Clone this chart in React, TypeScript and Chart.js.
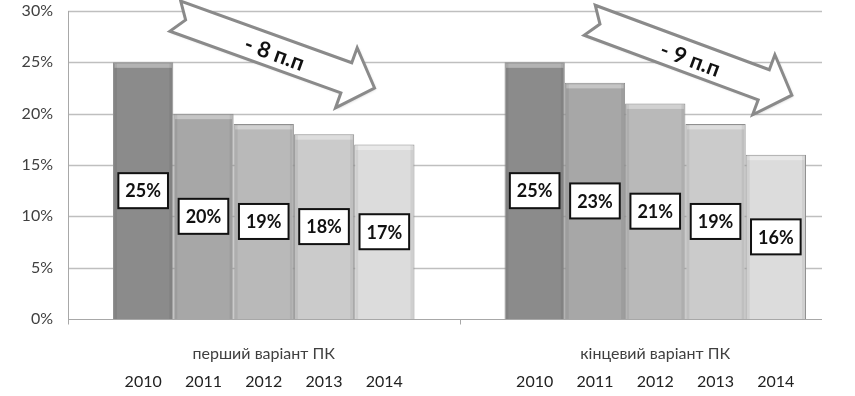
import React, { useEffect, useRef } from "react";
import { Chart, registerables } from "chart.js";

Chart.register(...registerables);

const categories = ["перший варіант ПК", "кінцевий варіант ПК"];
const years = ["2010", "2011", "2012", "2013", "2014"];
const values2010 = [25, 25];
const values2011 = [20, 23];
const values2012 = [19, 21];
const values2013 = [18, 19];
const values2014 = [17, 16];
const seriesValues = [values2010, values2011, values2012, values2013, values2014];
const yTicks = [0, 5, 10, 15, 20, 25, 30];
const arrowLabels = ["- 8 п.п", "- 9 п.п"];

// Arrow anchors in data space: category index offset (fraction of category) and value
const arrowTail = [
  { cat: -0.226, val: 29.5 },
  { cat: 1 - 0.1675, val: 29.1 },
];
const arrowTip = [
  { cat: 0.283, val: 22.5 },
  { cat: 1 + 0.349, val: 21.8 },
];

const barColors = ["#8b8b8b", "#a7a7a7", "#b9b9b9", "#cbcbcb", "#dcdcdc"];
const FONT = "Lato, 'Liberation Sans', sans-serif";

function drawArrow(ctx: CanvasRenderingContext2D, tx: number, ty: number, hx: number, hy: number, label: string) {
  const dx = hx - tx;
  const dy = hy - ty;
  const L = Math.sqrt(dx * dx + dy * dy);
  const ang = Math.atan2(dy, dx);
  const w = 16;
  const H = 32;
  const hl = 30;
  const n = 11;
  ctx.save();
  ctx.translate(tx, ty);
  ctx.rotate(ang);
  ctx.beginPath();
  ctx.moveTo(0, -w);
  ctx.lineTo(L - hl, -w);
  ctx.lineTo(L - hl, -H);
  ctx.lineTo(L, 0);
  ctx.lineTo(L - hl, H);
  ctx.lineTo(L - hl, w);
  ctx.lineTo(0, w);
  ctx.lineTo(n, 0);
  ctx.closePath();
  ctx.shadowColor = "rgba(0,0,0,0.25)";
  ctx.shadowBlur = 3;
  ctx.shadowOffsetX = 1;
  ctx.shadowOffsetY = 1;
  ctx.fillStyle = "#ffffff";
  ctx.fill();
  ctx.shadowColor = "transparent";
  ctx.lineWidth = 3;
  ctx.strokeStyle = "#8a8a8a";
  ctx.lineJoin = "miter";
  ctx.stroke();
  ctx.fillStyle = "#111111";
  ctx.font = `bold 22px ${FONT}`;
  ctx.textAlign = "center";
  ctx.textBaseline = "middle";
  ctx.fillText(label, L * 0.5, 2);
  ctx.restore();
}

const customPlugin = {
  id: "customDecor",
  beforeDatasetsDraw(chart: any) {
    const { ctx, chartArea, scales } = chart;
    const x = scales.x;
    const y = scales.y;
    ctx.save();
    ctx.strokeStyle = "#bfbfbf";
    ctx.lineWidth = 1.5;
    const right = chartArea.right - 29;
    yTicks.forEach((v) => {
      if (v === 0) return;
      const py = Math.round(y.getPixelForValue(v)) + 0.5;
      ctx.beginPath();
      ctx.moveTo(chartArea.left, py);
      ctx.lineTo(right, py);
      ctx.stroke();
    });
    ctx.strokeStyle = "#a8a8a8";
    ctx.lineWidth = 1;
    const y0 = Math.round(y.getPixelForValue(0)) + 0.5;
    const lx = Math.round(chartArea.left) + 0.5;
    ctx.beginPath();
    ctx.moveTo(lx, chartArea.top);
    ctx.lineTo(lx, y0);
    ctx.moveTo(chartArea.left, y0);
    ctx.lineTo(right, y0);
    for (let i = 0; i < categories.length; i++) {
      const bx = Math.round(x.getPixelForValue(i - 0.5)) + 0.5;
      ctx.moveTo(bx, y0);
      ctx.lineTo(bx, y0 + 5);
    }
    ctx.stroke();
    // y tick labels
    ctx.font = `16px ${FONT}`;
    ctx.fillStyle = "#404040";
    ctx.textAlign = "right";
    ctx.textBaseline = "middle";
    yTicks.forEach((v) => {
      ctx.fillText(`${v}%`, chartArea.left - 15, y.getPixelForValue(v));
    });
    ctx.restore();
  },
  afterDatasetsDraw(chart: any) {
    const { ctx, scales } = chart;
    const x = scales.x;
    const y = scales.y;
    const y0 = y.getPixelForValue(0);
    ctx.save();
    // bevel highlights
    chart.data.datasets.forEach((ds: any, di: number) => {
      const meta = chart.getDatasetMeta(di);
      meta.data.forEach((el: any) => {
        const left = el.x - el.width / 2;
        ctx.fillStyle = "rgba(255,255,255,0.35)";
        ctx.fillRect(left + 1.5, el.y + 1.5, el.width - 3, 4);
        ctx.fillStyle = "rgba(0,0,0,0.06)";
        ctx.fillRect(left + 1, el.y + 1, 3, el.base - el.y - 1);
        ctx.fillRect(left + el.width - 4, el.y + 1, 3, el.base - el.y - 1);
      });
    });
    // value labels
    ctx.font = `bold 18px ${FONT}`;
    ctx.textAlign = "center";
    ctx.textBaseline = "middle";
    chart.data.datasets.forEach((ds: any, di: number) => {
      const meta = chart.getDatasetMeta(di);
      meta.data.forEach((el: any, j: number) => {
        const text = `${ds.data[j]}%`;
        const tw = ctx.measureText(text).width;
        const bw = tw + 14;
        const bh = 35;
        const cx = el.x;
        const cy = (el.y + el.base) / 2;
        ctx.fillStyle = "#ffffff";
        ctx.fillRect(cx - bw / 2, cy - bh / 2, bw, bh);
        ctx.lineWidth = 2;
        ctx.strokeStyle = "#111111";
        ctx.strokeRect(cx - bw / 2, cy - bh / 2, bw, bh);
        ctx.fillStyle = "#111111";
        ctx.fillText(text, cx, cy + 1);
      });
    });
    // category labels
    ctx.font = `16px ${FONT}`;
    ctx.fillStyle = "#404040";
    categories.forEach((c, i) => {
      ctx.fillText(c, x.getPixelForValue(i), y0 + 35);
    });
    // year labels
    ctx.fillStyle = "#222222";
    chart.data.datasets.forEach((ds: any, di: number) => {
      const meta = chart.getDatasetMeta(di);
      meta.data.forEach((el: any) => {
        ctx.fillText(ds.label, el.x, y0 + 63);
      });
    });
    // arrows
    arrowLabels.forEach((lab, i) => {
      const tx = x.getPixelForValue(arrowTail[i].cat);
      const ty = y.getPixelForValue(arrowTail[i].val);
      const hx = x.getPixelForValue(arrowTip[i].cat);
      const hy = y.getPixelForValue(arrowTip[i].val);
      drawArrow(ctx, tx, ty, hx, hy, lab);
    });
    ctx.restore();
  },
};

export default function App() {
  const canvasRef = useRef<HTMLCanvasElement | null>(null);

  useEffect(() => {
    if (!canvasRef.current) return;
    const chart = new Chart(canvasRef.current, {
      type: "bar",
      data: {
        labels: categories,
        datasets: years.map((yr, i) => ({
          label: yr,
          data: seriesValues[i],
          backgroundColor: barColors[i],
          borderColor: "#8f8f8f",
          borderWidth: 1,
          categoryPercentage: 0.77,
          barPercentage: 1.0,
        })),
      },
      options: {
        responsive: false,
        animation: false,
        layout: { padding: { top: 11, bottom: 77, right: 4, left: 0 } },
        plugins: {
          legend: { display: false },
          tooltip: { enabled: false },
        },
        scales: {
          x: { display: false },
          y: {
            min: 0,
            max: 30,
            afterFit: (s: any) => {
              s.width = 68;
            },
            grid: { display: false },
            border: { display: false },
            ticks: { display: false, stepSize: 5 },
          },
        },
      },
      plugins: [customPlugin],
    });
    return () => chart.destroy();
  }, []);

  return (
    <div style={{ position: "absolute", left: 0, top: 0, width: 855, height: 396, background: "#fff" }}>
      <canvas ref={canvasRef} width={855} height={396} style={{ display: "block" }} />
    </div>
  );
}
